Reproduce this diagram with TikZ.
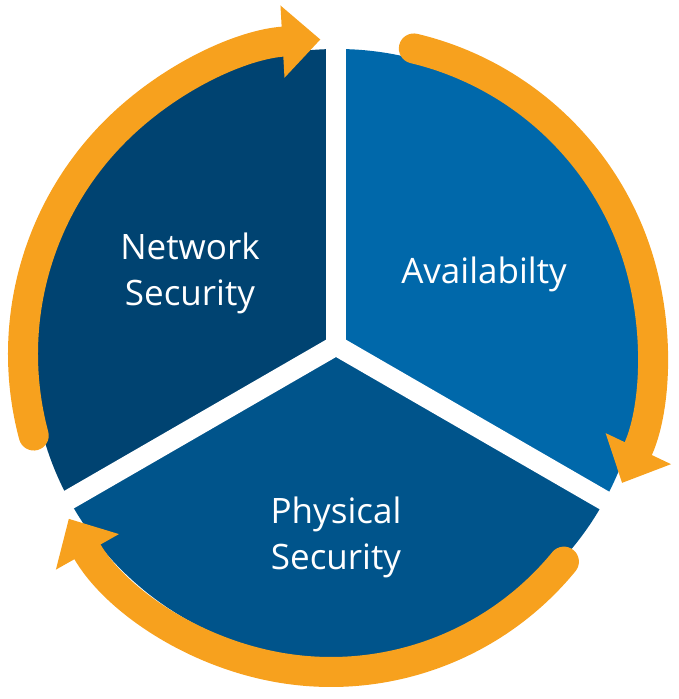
\documentclass[tikz,border=0pt]{standalone}
\usepackage{fontspec}
\setmainfont{Open Sans}
\definecolor{netblue}{RGB}{0,67,113}
\definecolor{availblue}{RGB}{0,104,170}
\definecolor{physblue}{RGB}{0,84,139}
\definecolor{ringorange}{RGB}{247,161,30}
\usetikzlibrary{calc,arrows.meta}

\begin{document}
\begin{tikzpicture}[x=1pt,y=1pt,
  every node/.style={font=\fontsize{35}{46}\selectfont,align=center,text=white},
  gap/.style={white,line width=20pt,line cap=round},
  ring/.style={draw=ringorange,line width=30pt,line cap=round,
    -{Triangle[width=70pt,length=38pt]}}]

\useasboundingbox (-337,-345) rectangle (341,354);

% Centro del circulo y union de los cortes
\coordinate (O) at (0,0);
\coordinate (J) at (-1,8.5);

% Sectores
\begin{scope}
  \clip (O) circle (305);
  \fill[netblue]   (J) -- ($(J)+(90:500)$)  -- ($(J)+(150:900)$) -- ($(J)+(210:500)$) -- cycle;
  \fill[availblue] (J) -- ($(J)+(-30:500)$) -- ($(J)+(30:900)$)  -- ($(J)+(90:500)$)  -- cycle;
  \fill[physblue]  (J) -- ($(J)+(210:500)$) -- ($(J)+(270:900)$) -- ($(J)+(330:500)$) -- cycle;
\end{scope}

% Cortes blancos
\draw[gap] (J) -- ($(J)+(90:400)$);
\draw[gap] (J) -- ($(J)+(210:400)$);
\draw[gap] (J) -- ($(J)+(330:400)$);

% Flechas del ciclo
\coordinate (c1) at (1,0);
\coordinate (c2) at (5,4);
\coordinate (c3) at (-6,-17);
\draw[ring] ($(c1)+(195:315)$) arc[start angle=195, end angle=93.2, radius=315];
\draw[ring] ($(c2)+(76.6:310)$) arc[start angle=76.6, end angle=-25.4, radius=310];
\draw[ring] ($(c3)+(-39.3:301)$) arc[start angle=-39.3, end angle=-150.6, radius=301];

% Textos
\node (net)   at (-147,81)  {Network\\Security};
\node (avail) at (147,80)   {Availabilty};
\node (phys)  at (-1,-183)  {Physical\\Security};

\end{tikzpicture}
\end{document}
